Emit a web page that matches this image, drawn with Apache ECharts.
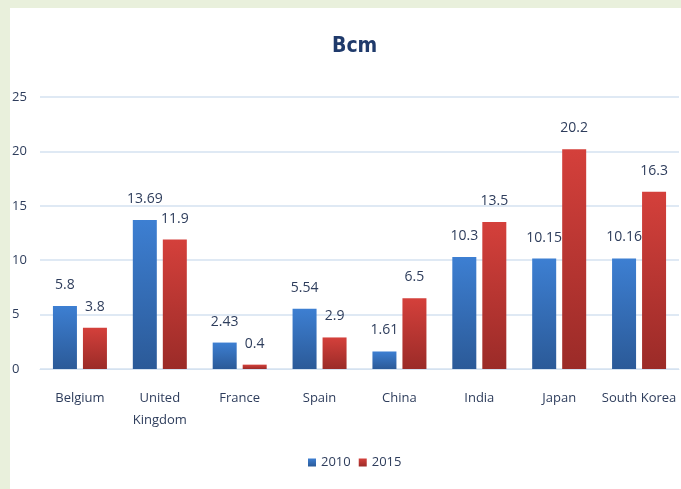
<!DOCTYPE html>
<html><head><meta charset="utf-8">
<script src="https://cdn.jsdelivr.net/npm/echarts@6/dist/echarts.min.js"></script>
<style>html,body{margin:0;padding:0;background:#e9f0dc;}#wrap{position:absolute;left:10px;top:8px;width:671px;height:481px;background:#fff;}#c{width:671px;height:481px;}</style>
</head><body><div id="wrap"><div id="c"></div></div>
<script>
const categories = ['Belgium', 'United\nKingdom', 'France', 'Spain', 'China', 'India', 'Japan', 'South Korea'];
const values2010 = [5.8, 13.69, 2.43, 5.54, 1.61, 10.3, 10.15, 10.16];
const values2015 = [3.8, 11.9, 0.4, 2.9, 6.5, 13.5, 20.2, 16.3];
const seriesNames = ['2010', '2015'];
const yTicks = {min: 0, max: 25, interval: 5};

const font = '"Open Sans","Noto Sans",sans-serif';
const titleFont = '"DejaVu Sans Condensed","Open Sans",sans-serif';
const txt = '#2e3d5c';
function grad(a, b) {
  return new echarts.graphic.LinearGradient(0, 0, 0, 1, [{offset: 0, color: a}, {offset: 1, color: b}]);
}
const chart = echarts.init(document.getElementById('c'));
chart.setOption({
  animation: false,
  title: {text: 'Bcm', left: 317, top: 23, textStyle: {fontFamily: titleFont, fontSize: 21, fontWeight: 'bold', color: '#1f3a6b'}},
  legend: {bottom: 15, left: 293, itemWidth: 8, itemHeight: 8, itemGap: 8, textStyle: {fontFamily: font, fontSize: 13, color: txt},
    data: [{name: seriesNames[0], icon: 'rect'}, {name: seriesNames[1], icon: 'rect'}]},
  grid: {left: 30, right: 2, top: 89, bottom: 120, outerBoundsMode: 'none', containLabel: false},
  xAxis: {type: 'category', data: categories,
    axisLine: {lineStyle: {color: '#d5e2f0'}}, axisTick: {show: false},
    axisLabel: {fontFamily: font, fontSize: 13, color: txt, margin: 18, lineHeight: 22, interval: 0}},
  yAxis: {type: 'value', min: yTicks.min, max: yTicks.max, interval: yTicks.interval,
    axisLine: {show: false}, axisTick: {show: false},
    splitLine: {lineStyle: {color: '#d5e2f0', width: 1.5}},
    axisLabel: {fontFamily: font, fontSize: 13, color: txt, margin: 28, align: 'left'}},
  series: [
    {name: seriesNames[0], type: 'bar', data: values2010, barWidth: 24, barGap: '25%',
      itemStyle: {color: grad('#3d7fd2', '#2b5a98')},
      label: {show: true, position: 'top', distance: 14, fontFamily: font, fontSize: 14, color: txt}},
    {name: seriesNames[1], type: 'bar', data: values2015, barWidth: 24,
      itemStyle: {color: grad('#d4403b', '#9b2b28')},
      label: {show: true, position: 'top', distance: 14, fontFamily: font, fontSize: 14, color: txt}}
  ]
});
</script></body></html>
